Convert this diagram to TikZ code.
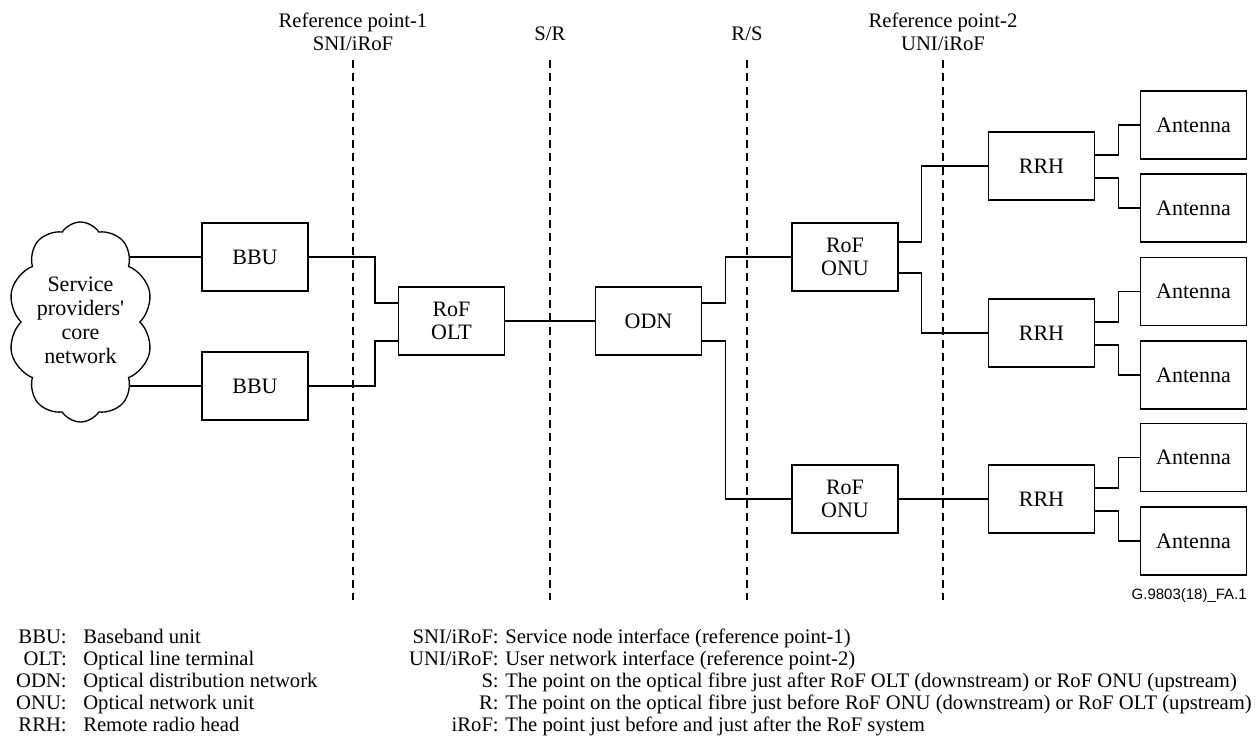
\documentclass[tikz,border=0pt]{standalone}
\usepackage{fontspec}
\setmainfont{Liberation Serif}
\newfontfamily\figsans{Liberation Sans}
\usetikzlibrary{calc,shapes.symbols,backgrounds}
\begin{document}
\begin{tikzpicture}[x=0.75pt,y=-0.75pt,
  box/.style={draw,line width=1pt,minimum width=79.5pt,minimum height=51pt,inner sep=0pt,align=center,font=\fontsize{16.5}{17.25}\selectfont},
  wire/.style={line width=1pt},
  refline/.style={line width=0.8pt,dash pattern=on 6pt off 4pt},
  toplbl/.style={anchor=base,inner sep=0pt,font=\fontsize{15.5}{17}\selectfont},
  key/.style={anchor=base east,inner sep=0pt,font=\fontsize{15.5}{17}\selectfont},
  desc/.style={anchor=base west,inner sep=0pt,font=\fontsize{15.5}{17}\selectfont}]
\useasboundingbox (0,0) rectangle (1257,744);

% cloud
\node[cloud,draw,fill=white,line width=1pt,cloud puffs=10,cloud puff arc=115,aspect=0.72,
      minimum width=108.75pt,minimum height=150pt,inner sep=0pt] (core) at (80.5,322) {};
\node[align=center,inner sep=0pt,font=\fontsize{16.5}{18}\selectfont] (coretext) at (80.5,320)
  {Service\\providers\textquotesingle\\core\\network};

% boxes
\node[box] (bbu1) at (255,257) {BBU};
\node[box] (bbu2) at (255,386) {BBU};
\node[box] (olt) at (451.5,321) {RoF\\OLT};
\node[box] (odn) at (648.5,321) {ODN};
\node[box] (onu1) at (845,257) {RoF\\ONU};
\node[box] (onu2) at (845,499) {RoF\\ONU};
\node[box] (rrh1) at (1041.5,166) {RRH};
\node[box] (rrh2) at (1041.5,333) {RRH};
\node[box] (rrh3) at (1041.5,499) {RRH};
\node[box] (ant1) at (1193.5,125) {Antenna};
\node[box] (ant2) at (1193.5,208) {Antenna};
\node[box] (ant3) at (1193.5,291.5) {Antenna};
\node[box] (ant4) at (1193.5,375) {Antenna};
\node[box] (ant5) at (1193.5,457.5) {Antenna};
\node[box] (ant6) at (1193.5,541) {Antenna};

% cloud links (behind the cloud)
\begin{pgfonlayer}{background}
\draw[wire] (bbu1.west) -- (core.center |- bbu1.west);
\draw[wire] (bbu2.west) -- (core.center |- bbu2.west);
\end{pgfonlayer}

% connectors
\draw[wire] (bbu1.east) -| ($(olt.west)+(-23,-18)$) -- ($(olt.west)+(0,-18)$);
\draw[wire] (bbu2.east) -| ($(olt.west)+(-23,20)$) -- ($(olt.west)+(0,20)$);
\draw[wire] (olt.east) -- (odn.west);
\draw[wire] ($(odn.east)+(0,-18)$) -- ++(23,0) |- (onu1.west);
\draw[wire] ($(odn.east)+(0,20)$) -- ++(23,0) |- (onu2.west);
\draw[wire] ($(onu1.east)+(0,-15)$) -- ++(23,0) |- (rrh1.west);
\draw[wire] ($(onu1.east)+(0,16)$) -- ++(23,0) |- (rrh2.west);
\draw[wire] (onu2.east) -- (rrh3.west);
\draw[wire] ($(rrh1.east)+(0,-11)$) -- ++(23,0) |- (ant1.west);
\draw[wire] ($(rrh1.east)+(0,12)$) -- ++(23,0) |- (ant2.west);
\draw[wire] ($(rrh2.east)+(0,-11)$) -- ++(23,0) |- (ant3.west);
\draw[wire] ($(rrh2.east)+(0,12)$) -- ++(23,0) |- (ant4.west);
\draw[wire] ($(rrh3.east)+(0,-11)$) -- ++(23,0) |- (ant5.west);
\draw[wire] ($(rrh3.east)+(0,12)$) -- ++(23,0) |- (ant6.west);

% reference lines
\coordinate (rp1t) at (353,60);  \coordinate (rp1b) at (353,600);
\coordinate (srt) at (550,60);   \coordinate (srb) at (550,600);
\coordinate (rst) at (747,60);   \coordinate (rsb) at (747,600);
\coordinate (rp2t) at (943,60);  \coordinate (rp2b) at (943,600);
\draw[refline] (rp1t) -- (rp1b);
\draw[refline] (srt) -- (srb);
\draw[refline] (rst) -- (rsb);
\draw[refline] (rp2t) -- (rp2b);

\node[toplbl] (rp1a) at (353,27) {Reference point-1};
\node[toplbl] (rp1n) at (353,50) {SNI/iRoF};
\node[toplbl] (srl) at (550,40) {S/R};
\node[toplbl] (rsl) at (747,40) {R/S};
\node[toplbl] (rp2a) at (943,27) {Reference point-2};
\node[toplbl] (rp2n) at (943,50) {UNI/iRoF};

\node[anchor=base east,inner sep=0pt,font=\figsans\fontsize{11.25}{12}\selectfont] (figid) at (1247,599) {G.9803(18)\_FA.1};

% legend left
\node[key] (k1) at (67,643) {BBU:};  \node[desc] (d1) at (83,643) {Baseband unit};
\node[key] (k2) at (67,665) {OLT:};  \node[desc] (d2) at (83,665) {Optical line terminal};
\node[key] (k3) at (67,687) {ODN:};  \node[desc] (d3) at (83,687) {Optical distribution network};
\node[key] (k4) at (67,709) {ONU:};  \node[desc] (d4) at (83,709) {Optical network unit};
\node[key] (k5) at (67,731) {RRH:};  \node[desc] (d5) at (83,731) {Remote radio head};

% legend right
\node[key] (k6) at (499,643) {SNI/iRoF:};  \node[desc] (d6) at (505,643) {Service node interface (reference point-1)};
\node[key] (k7) at (499,665) {UNI/iRoF:};  \node[desc] (d7) at (505,665) {User network interface (reference point-2)};
\node[key] (k8) at (499,687) {S:};  \node[desc] (d8) at (505,687) {The point on the optical fibre just after RoF OLT (downstream) or RoF ONU (upstream)};
\node[key] (k9) at (499,709) {R:};  \node[desc] (d9) at (505,709) {The point on the optical fibre just before RoF ONU (downstream) or RoF OLT (upstream)};
\node[key] (k10) at (499,731) {iRoF:}; \node[desc] (d10) at (505,731) {The point just before and just after the RoF system};
\end{tikzpicture}
\end{document}
